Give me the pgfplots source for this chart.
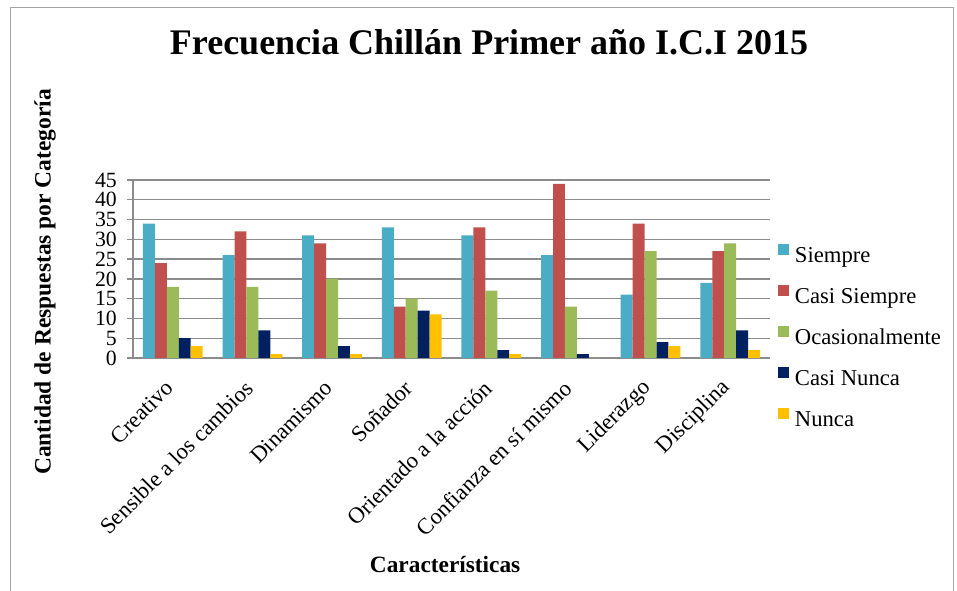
\documentclass[border=0pt]{standalone}
\usepackage{fontspec}
\setmainfont{Liberation Serif}
\usepackage{pgfplots}
\pgfplotsset{compat=1.18}
\definecolor{cSiempre}{HTML}{4BACC6}
\definecolor{cCasiS}{HTML}{C0504D}
\definecolor{cOcas}{HTML}{9BBB59}
\definecolor{cCasiN}{HTML}{002060}
\definecolor{cNunca}{HTML}{FFC000}
\definecolor{gridgray}{HTML}{8C8C8C}
\definecolor{framegray}{HTML}{A6A6A6}

\pgfplotstableread{
x siempre casis ocas casin nunca
0 34 24 18 5 3
1 26 32 18 7 1
2 31 29 20 3 1
3 33 13 15 12 11
4 31 33 17 2 1
5 26 44 13 1 0
6 16 34 27 4 3
7 19 27 29 7 2
}\datatable

\begin{document}
\begin{tikzpicture}
\useasboundingbox (0,0) rectangle (717.75pt,443.25pt);
\draw[color=framegray, line width=0.75pt] (7.5pt,-5pt) -- (7.5pt,437.25pt) -- (714.75pt,437.25pt) -- (714.75pt,-5pt);
\begin{axis}[
  at={(99.75pt,174.75pt)}, anchor=south west,
  scale only axis, width=477.75pt, height=133.5pt,
  ybar=0pt, bar width=0.15,
  xmin=-0.5, xmax=7.5, ymin=0, ymax=45,
  xtick={0,...,7},
  xticklabels={Creativo,Sensible a los cambios,Dinamismo,Soñador,Orientado a la acción,Confianza en sí mismo,Liderazgo,Disciplina},
  ytick={0,5,...,45},
  axis x line=bottom, axis y line=left,
  axis line style={-, gridgray, line width=1.2pt},
  x tick style={draw=none},
  y tick style={gridgray, line width=1pt},
  tick align=outside, major tick length=4.5pt,
  ymajorgrids, grid style={gridgray, line width=1pt},
  /pgf/number format/assume math mode=true,
  yticklabel style={font=\fontsize{16.3}{16}\selectfont, inner sep=2pt, xshift=-5.5pt},
  xticklabel style={xshift=0pt, yshift=-13pt, rotate=45, anchor=east, font=\fontsize{17}{19}\selectfont},
  xlabel={Características},
  xlabel style={at={(axis description cs:0.49,-1.163)}, anchor=center, font=\fontsize{17.5}{20}\selectfont\bfseries},
  ylabel={Cantidad de Respuestas por Categoría},
  ylabel style={at={(axis description cs:-0.138,0.427)}, anchor=center, rotate=0, font=\fontsize{17.6}{20}\selectfont\bfseries},
  title={Frecuencia Chillán Primer año I.C.I 2015},
  title style={at={(axis description cs:0.559,1.73)}, anchor=center, font=\fontsize{27}{30}\selectfont\bfseries},
  legend style={at={(axis description cs:1.0,0.113)}, anchor=west, xshift=6pt, draw=none, fill=none,
    font=\fontsize{17}{20}\selectfont, row sep=13.3pt, inner sep=0pt,
    nodes={inner xsep=4.5pt, inner ysep=0pt, text height=12pt, text depth=4pt}},
  legend cell align=left,
  legend image code/.code={\fill[#1,draw=none] (0pt,1.5pt) rectangle (8pt,9.5pt);},
]
\addplot[fill=cSiempre, draw=none] table[x=x, y=siempre] {\datatable};
\addplot[fill=cCasiS, draw=none] table[x=x, y=casis] {\datatable};
\addplot[fill=cOcas, draw=none] table[x=x, y=ocas] {\datatable};
\addplot[fill=cCasiN, draw=none] table[x=x, y=casin] {\datatable};
\addplot[fill=cNunca, draw=none] table[x=x, y=nunca] {\datatable};
\legend{Siempre, Casi Siempre, Ocasionalmente, Casi Nunca, Nunca}
\end{axis}
\end{tikzpicture}
\end{document}
